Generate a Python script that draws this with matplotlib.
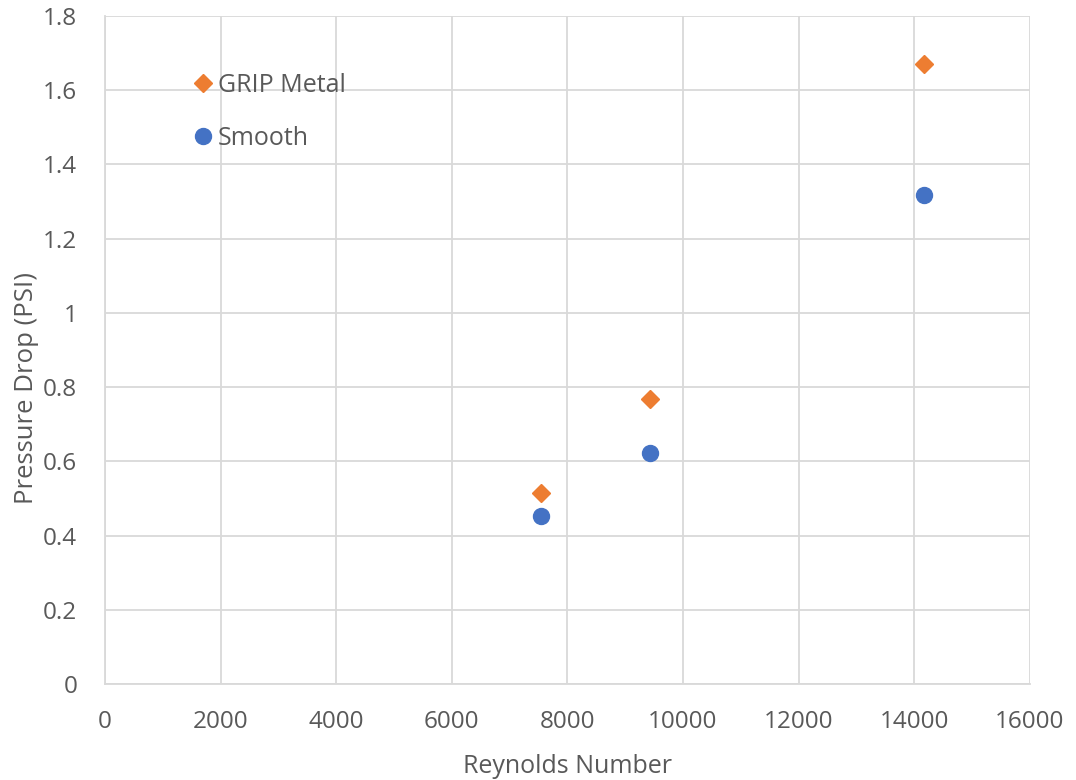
import matplotlib
matplotlib.use("Agg")
import matplotlib.pyplot as plt

# Pressure drop versus Reynolds number for two surface types
reynolds = [7551, 9434, 14168]
grip_metal = [0.514, 0.767, 1.671]
smooth = [0.453, 0.622, 1.318]

x_ticks = [0, 2000, 4000, 6000, 8000, 10000, 12000, 14000, 16000]
y_ticks = [0, 0.2, 0.4, 0.6, 0.8, 1.0, 1.2, 1.4, 1.6, 1.8]
y_tick_labels = ["0", "0.2", "0.4", "0.6", "0.8", "1", "1.2", "1.4", "1.6", "1.8"]

text_color = "#595959"
grid_color = "#D9D9D9"
orange = "#ED7D31"
blue = "#4472C4"

plt.rcParams["font.family"] = ["Open Sans", "DejaVu Sans"]

fig = plt.figure(figsize=(10.76, 7.80), dpi=100)
ax = fig.add_axes([0.0976, 0.123, 0.8594, 0.8565])

ax.plot(reynolds, grip_metal, linestyle="none", marker="D", markersize=9,
        color=orange, label="GRIP Metal", zorder=3)
ax.plot(reynolds, smooth, linestyle="none", marker="o", markersize=11.5,
        color=blue, label="Smooth", zorder=3)

ax.set_xlim(0, 16000)
ax.set_ylim(0, 1.8)
ax.set_xticks(x_ticks)
ax.set_xticklabels([str(t) for t in x_ticks])
ax.set_yticks(y_ticks)
ax.set_yticklabels(y_tick_labels)

ax.grid(True, color=grid_color, linewidth=1.3)
ax.set_axisbelow(True)
for side in ["top", "right"]:
    ax.spines[side].set_visible(False)
for side in ["left", "bottom"]:
    ax.spines[side].set_color(grid_color)
    ax.spines[side].set_linewidth(1.3)

ax.tick_params(axis="both", length=0, labelsize=17.5, colors=text_color)
ax.tick_params(axis="x", pad=19)
ax.tick_params(axis="y", pad=20)

ax.set_xlabel("Reynolds Number", fontsize=18, color=text_color, labelpad=14)
ax.set_ylabel("Pressure Drop (PSI)", fontsize=18.5, color=text_color)
ax.yaxis.set_label_coords(-0.071, 0.443)

leg = ax.legend(loc="upper left", bbox_to_anchor=(0.084, 0.930), frameon=False,
                fontsize=18, handlelength=0.8, handletextpad=0.2,
                labelspacing=1.12, borderaxespad=0)
for t in leg.get_texts():
    t.set_color(text_color)

fig.savefig("out.png", dpi=100, facecolor="white")
